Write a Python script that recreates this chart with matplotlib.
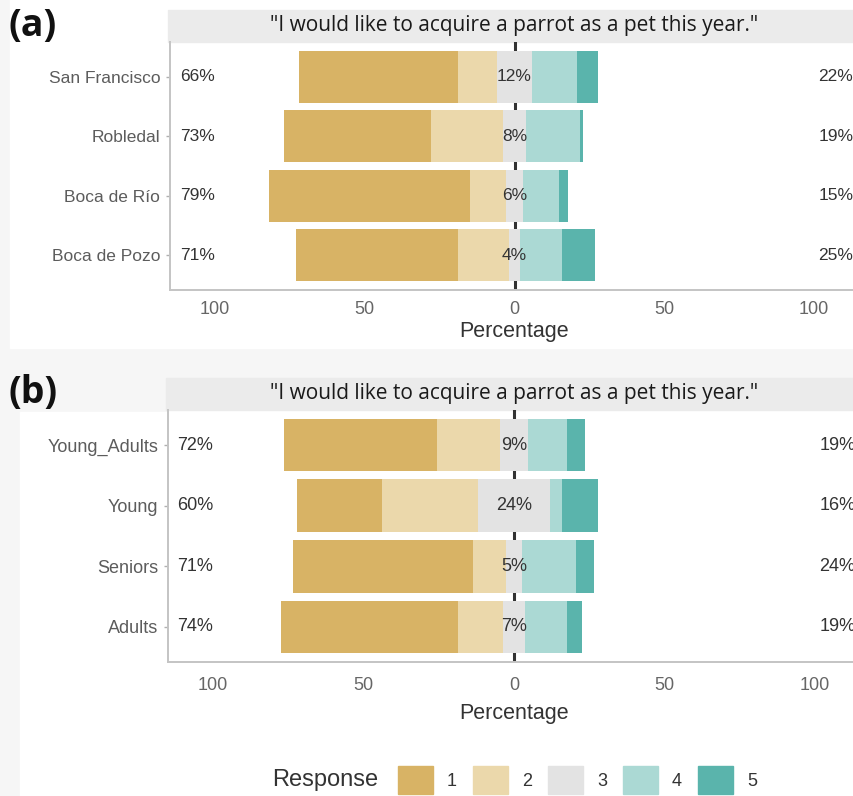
import matplotlib
matplotlib.use("Agg")
import matplotlib.pyplot as plt
from matplotlib.patches import Rectangle, Patch
import numpy as np

question = '"I would like to acquire a parrot as a pet this year."'
responses = ["1", "2", "3", "4", "5"]
colors = ["#d8b365", "#ebd8ab", "#e3e3e3", "#abd9d4", "#5ab4ac"]

# (a) answers by community, % of respondents per response level
sites = ["San Francisco", "Robledal", "Boca de Río", "Boca de Pozo"]
sites_r1 = [53, 49, 67, 54]
sites_r2 = [13, 24, 12, 17]
sites_r3 = [12, 8, 6, 4]
sites_r4 = [15, 18, 12, 14]
sites_r5 = [7, 1, 3, 11]

# (b) answers by age group
ages = ["Young_Adults", "Young", "Seniors", "Adults"]
ages_r1 = [51, 28, 60, 59]
ages_r2 = [21, 32, 11, 15]
ages_r3 = [9, 24, 5, 7]
ages_r4 = [13, 4, 18, 14]
ages_r5 = [6, 12, 6, 5]

W, H = 854, 796
SANS = "Liberation Sans"
OPEN = "Open Sans"


def frac(x0, top, x1, bottom):
    # pixel box (from top-left) -> figure fraction [l, b, w, h]
    return [x0 / W, 1 - bottom / H, (x1 - x0) / W, (bottom - top) / H]


def likert(ax, groups, levels, fs, tick_pad=8, label_pad=2):
    levels = [np.array(v, dtype=float) for v in levels]
    y = np.arange(len(groups))
    start = -(levels[2] / 2) - levels[1] - levels[0]
    ax.axvline(0, color="#333333", lw=2.2, zorder=1)
    for vals, c in zip(levels, colors):
        ax.barh(y, vals, left=start, height=0.87, color=c, zorder=2)
        start = start + vals

    low = levels[0] + levels[1]
    mid = levels[2]
    high = levels[3] + levels[4]
    for i in range(len(groups)):
        ax.text(-100, y[i], f"{low[i]:.0f}%", ha="right", va="center",
                fontsize=fs, color="#333333", family=SANS, zorder=3)
        ax.text(0, y[i], f"{mid[i]:.0f}%", ha="center", va="center",
                fontsize=fs, color="#333333", family=SANS, zorder=3)
        ax.text(101.5, y[i], f"{high[i]:.0f}%", ha="left", va="center",
                fontsize=fs, color="#333333", family=SANS, zorder=3)

    ax.set_xlim(-115, 115)
    ax.set_ylim(len(groups) - 0.42, -0.58)
    ax.set_yticks(y)
    ax.set_yticklabels(groups, family=SANS, fontsize=fs, color="#5c5c5c")
    ax.set_xticks([-100, -50, 0, 50, 100])
    ax.set_xticklabels(["100", "50", "0", "50", "100"], family=SANS,
                       fontsize=13, color="#666666")
    ax.tick_params(axis="x", length=0, pad=tick_pad)
    ax.tick_params(axis="y", length=3, width=1, color="#b0b0b0", pad=4)
    for side in ["top", "right"]:
        ax.spines[side].set_visible(False)
    for side in ["left", "bottom"]:
        ax.spines[side].set_color("#c4c4c4")
        ax.spines[side].set_linewidth(1.4)
    ax.set_xlabel("Percentage", family=SANS, fontsize=15.5, color="#333333",
                  labelpad=label_pad)
    ax.set_facecolor("white")

    # grey strip holding the statement
    strip_h = 32 / (ax.get_position().height * H)
    ax.add_patch(Rectangle((-0.003, 1), 1.01, strip_h, transform=ax.transAxes,
                           color="#ebebeb", clip_on=False, zorder=0))
    ax.text(0.5, 1 + strip_h / 2, question, transform=ax.transAxes,
            ha="center", va="center", fontsize=15, color="#1a1a1a",
            family=OPEN)


fig = plt.figure(figsize=(W / 100, H / 100), dpi=100)
fig.patch.set_facecolor("#f6f6f6")
fig.add_artist(Rectangle((10 / W, 1 - 348 / H), 1, 348 / H,
                         transform=fig.transFigure, color="white", zorder=0))
fig.add_artist(Rectangle((20 / W, 0), 1, 1 - 412 / H,
                         transform=fig.transFigure, color="white", zorder=0))

ax_a = fig.add_axes(frac(170, 42, 859, 290))
likert(ax_a, sites, [sites_r1, sites_r2, sites_r3, sites_r4, sites_r5], 12.5)

ax_b = fig.add_axes(frac(168, 410, 860, 662))
likert(ax_b, ages, [ages_r1, ages_r2, ages_r3, ages_r4, ages_r5], 13,
       tick_pad=11, label_pad=6)

fig.text(8 / W, 1 - 26 / H, "(a)", fontsize=27, fontweight="bold",
         family=OPEN, va="center", ha="left", color="#111111")
fig.text(8 / W, 1 - 393 / H, "(b)", fontsize=27, fontweight="bold",
         family=OPEN, va="center", ha="left", color="#111111")

# legend along the bottom
handles = [Patch(color=c) for c in colors]
fig.text(272 / W, 1 - 780 / H, "Response", family=SANS, fontsize=17,
         color="#333333", va="center", ha="left")
fig.legend(handles, responses, ncol=5, loc="center left",
           bbox_to_anchor=(382 / W, 1 - 780 / H), frameon=False,
           prop={"family": SANS, "size": 13}, handlelength=1.95,
           handleheight=1.95, handletextpad=0.75, columnspacing=0.9,
           labelcolor="#333333")

fig.savefig("out.png", dpi=100, facecolor=fig.get_facecolor())
